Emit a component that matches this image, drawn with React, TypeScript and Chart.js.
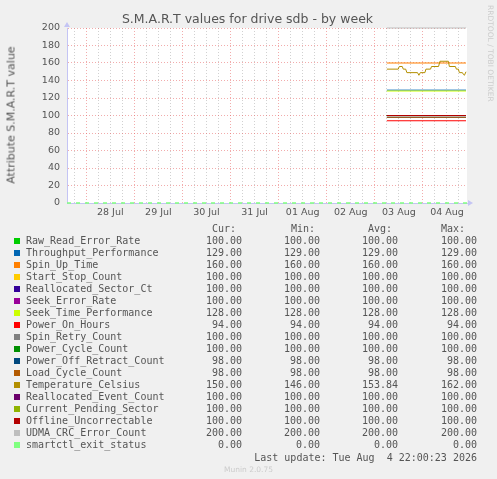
import { useEffect, useRef } from "react";
import { Chart, registerables } from "chart.js";

Chart.register(...registerables);

// x axis is in hours since 28 Jul 00:00
const DAYS = ["28 Jul", "29 Jul", "30 Jul", "31 Jul", "01 Aug", "02 Aug", "03 Aug", "04 Aug"];
const X_MIN = -9.6;
const X_MAX = 190;
const SERIES_HOURS = [150, 189.5];
const EXIT_HOURS = [-9.6, 190];

const NAMES = [
  "Raw_Read_Error_Rate",
  "Throughput_Performance",
  "Spin_Up_Time",
  "Start_Stop_Count",
  "Reallocated_Sector_Ct",
  "Seek_Error_Rate",
  "Seek_Time_Performance",
  "Power_On_Hours",
  "Spin_Retry_Count",
  "Power_Cycle_Count",
  "Power_Off_Retract_Count",
  "Load_Cycle_Count",
  "Temperature_Celsius",
  "Reallocated_Event_Count",
  "Current_Pending_Sector",
  "Offline_Uncorrectable",
  "UDMA_CRC_Error_Count",
  "smartctl_exit_status",
];
const COLORS = [
  "#00CC00", "#0066B3", "#FF8000", "#FFCC00", "#330099", "#990099",
  "#CCFF00", "#FF0000", "#808080", "#008F00", "#00487D", "#B35A00",
  "#B38F00", "#6B006B", "#8FB300", "#B30000", "#BEBEBE", "#80FF80",
];
const CUR = [100, 129, 160, 100, 100, 100, 128, 94, 100, 100, 98, 98, 150, 100, 100, 100, 200, 0];
const MIN = [100, 129, 160, 100, 100, 100, 128, 94, 100, 100, 98, 98, 146, 100, 100, 100, 200, 0];
const AVG = [100, 129, 160, 100, 100, 100, 128, 94, 100, 100, 98, 98, 153.84, 100, 100, 100, 200, 0];
const MAX = [100, 129, 160, 100, 100, 100, 128, 94, 100, 100, 98, 98, 162, 100, 100, 100, 200, 0];

const TEMP_INDEX = 12;
const EXIT_INDEX = 17;
const TEMP_HOURS = [
  150, 155.7, 156.2, 157.7, 158.2, 159.4, 160, 165.3, 166, 166.7, 169, 169.5, 171.8,
  172.3, 175.8, 176.5, 180.7, 181.2, 184.2, 184.7, 185.7, 186.2, 187.7, 188.2, 188.7, 189.5,
];
const TEMP_VALUES = [
  153, 153, 156, 156, 153, 153, 149, 149, 146, 149, 149, 153, 153,
  156, 156, 162, 162, 156, 156, 153, 153, 149, 149, 147, 146, 150,
];

const TEXT = "#555555";
const MAJOR = "rgba(230, 90, 90, 0.5)";
const MINOR = "rgba(140, 140, 140, 0.4)";
const AXIS = "#C4C4F4";
const SANS = "'DejaVu Sans', sans-serif";
const MONO = "'DejaVu Sans Mono', monospace";

const fmt = (v: number) => v.toFixed(2);

const seriesData = (i: number) => {
  if (i === TEMP_INDEX) return TEMP_HOURS.map((x, k) => ({ x, y: TEMP_VALUES[k] }));
  const hours = i === EXIT_INDEX ? EXIT_HOURS : SERIES_HOURS;
  return hours.map((x) => ({ x, y: CUR[i] }));
};

const frame = {
  id: "frame",
  beforeDraw(chart: Chart) {
    const { ctx, chartArea: a } = chart;
    ctx.save();
    ctx.fillStyle = "#FFFFFF";
    ctx.fillRect(a.left, a.top, a.right - a.left, a.bottom - a.top);
    ctx.restore();
  },
  afterDraw(chart: Chart) {
    const { ctx, chartArea: a } = chart;
    ctx.save();
    ctx.fillStyle = AXIS;
    ctx.beginPath();
    ctx.moveTo(a.left - 3, a.top - 1);
    ctx.lineTo(a.left + 3, a.top - 1);
    ctx.lineTo(a.left, a.top - 6);
    ctx.closePath();
    ctx.fill();
    ctx.beginPath();
    ctx.moveTo(a.right + 1, a.bottom - 3);
    ctx.lineTo(a.right + 1, a.bottom + 3);
    ctx.lineTo(a.right + 6, a.bottom);
    ctx.closePath();
    ctx.fill();
    ctx.restore();
  },
};

export default function App() {
  const canvasRef = useRef<HTMLCanvasElement>(null);

  useEffect(() => {
    document.body.style.margin = "0";
    if (!canvasRef.current) return;

    const chart = new Chart(canvasRef.current, {
      type: "line",
      data: {
        datasets: NAMES.map((name, i) => ({
          label: name,
          data: seriesData(i),
          borderColor: COLORS[i],
          backgroundColor: COLORS[i],
          borderWidth: i === EXIT_INDEX ? 1.5 : 1,
          borderDash: i === EXIT_INDEX ? [4, 5] : [],
          pointRadius: 0,
          tension: 0,
          fill: false,
          clip: 3,
          order: NAMES.length - i,
        })),
      },
      options: {
        responsive: false,
        animation: false,
        layout: { padding: { left: 0, top: 28, right: 30, bottom: 256 } },
        plugins: {
          legend: { display: false },
          tooltip: { enabled: false },
          title: { display: false },
        },
        scales: {
          x: {
            type: "linear",
            min: X_MIN,
            max: X_MAX,
            afterBuildTicks: (scale: any) => {
              const ticks = [];
              for (let h = -6; h <= 186; h += 6) ticks.push({ value: h });
              scale.ticks = ticks;
            },
            afterFit: (scale: any) => {
              scale.height = 20;
            },
            ticks: {
              autoSkip: false,
              maxRotation: 0,
              padding: 4,
              color: TEXT,
              font: { family: SANS, size: 9.5 },
              callback: (v: any) => {
                const n = Number(v);
                return ((n % 24) + 24) % 24 === 12 ? DAYS[(n - 12) / 24] ?? "" : "";
              },
            },
            grid: {
              drawTicks: false,
              lineWidth: 1,
              color: (c: any) => (((c.tick?.value ?? 1) % 24) === 0 ? MAJOR : MINOR),
            },
            border: { display: true, color: AXIS, width: 1, dash: [1, 2] },
          },
          y: {
            min: 0,
            max: 200,
            afterFit: (scale: any) => {
              scale.width = 67;
            },
            ticks: {
              stepSize: 10,
              padding: 7,
              color: TEXT,
              font: { family: SANS, size: 9.5 },
              callback: (v: any) => (Number(v) % 20 === 0 ? String(v) : ""),
            },
            grid: {
              drawTicks: false,
              lineWidth: 1,
              color: (c: any) => ((c.tick?.value ?? 1) % 20 === 0 ? MAJOR : MINOR),
            },
            border: { display: true, color: AXIS, width: 1, dash: [1, 2] },
          },
        },
      },
      plugins: [frame],
    });

    return () => {
      chart.destroy();
    };
  }, []);

  const abs = (style: any) => ({ position: "absolute" as const, whiteSpace: "pre" as const, ...style });
  const cols = [
    { head: "Cur:", headLeft: 212, right: 242, values: CUR },
    { head: "Min:", headLeft: 291, right: 320, values: MIN },
    { head: "Avg:", headLeft: 368, right: 398, values: AVG },
    { head: "Max:", headLeft: 441, right: 477, values: MAX },
  ];
  const rowTop = (i: number) => 234.5 + i * 12;

  return (
    <div
      style={{
        position: "fixed",
        left: 0,
        top: 0,
        width: 497,
        height: 479,
        background: "#F0F0F0",
        overflow: "hidden",
      }}
    >
      <canvas ref={canvasRef} width={497} height={479} style={{ position: "absolute", left: 0, top: 0 }} />
      <div
        style={abs({
          left: 0,
          width: 495,
          top: 11,
          textAlign: "center",
          font: `12.5px ${SANS}`,
          lineHeight: "16px",
          color: TEXT,
        })}
      >
        S.M.A.R.T values for drive sdb - by week
      </div>
      <div
        style={abs({
          left: 11,
          top: 115,
          transform: "translate(-50%, -50%) rotate(-90deg)",
          font: `11px ${SANS}`,
          lineHeight: "13px",
          color: TEXT,
        })}
      >
        Attribute S.M.A.R.T value
      </div>
      <div
        style={abs({
          left: 486,
          top: 5,
          writingMode: "vertical-rl",
          font: `7.5px ${SANS}`,
          color: "#CCCCCC",
        })}
      >
        RRDTOOL / TOBI OETIKER
      </div>
      {cols.map((c) => (
        <div
          key={c.head}
          style={abs({ left: c.headLeft, top: 222.5, font: `10px ${MONO}`, lineHeight: "12px", color: TEXT })}
        >
          {c.head}
        </div>
      ))}
      {NAMES.map((name, i) => (
        <div key={name}>
          <div
            style={{
              position: "absolute",
              left: 14,
              top: rowTop(i) + 3,
              width: 6,
              height: 6,
              background: COLORS[i],
            }}
          />
          <div style={abs({ left: 26, top: rowTop(i), font: `10px ${MONO}`, lineHeight: "12px", color: TEXT })}>
            {name}
          </div>
          {cols.map((c) => (
            <div
              key={c.head}
              style={abs({
                right: 497 - c.right,
                top: rowTop(i),
                font: `10px ${MONO}`,
                lineHeight: "12px",
                color: TEXT,
              })}
            >
              {fmt(c.values[i])}
            </div>
          ))}
        </div>
      ))}
      <div
        style={abs({ right: 497 - 477, top: 451.5, font: `10px ${MONO}`, lineHeight: "12px", color: TEXT })}
      >
        Last update: Tue Aug  4 22:00:23 2026
      </div>
      <div
        style={abs({
          left: 0,
          width: 497,
          top: 465,
          textAlign: "center",
          font: `7.5px ${SANS}`,
          lineHeight: "9px",
          color: "#CCCCCC",
        })}
      >
        Munin 2.0.75
      </div>
    </div>
  );
}
